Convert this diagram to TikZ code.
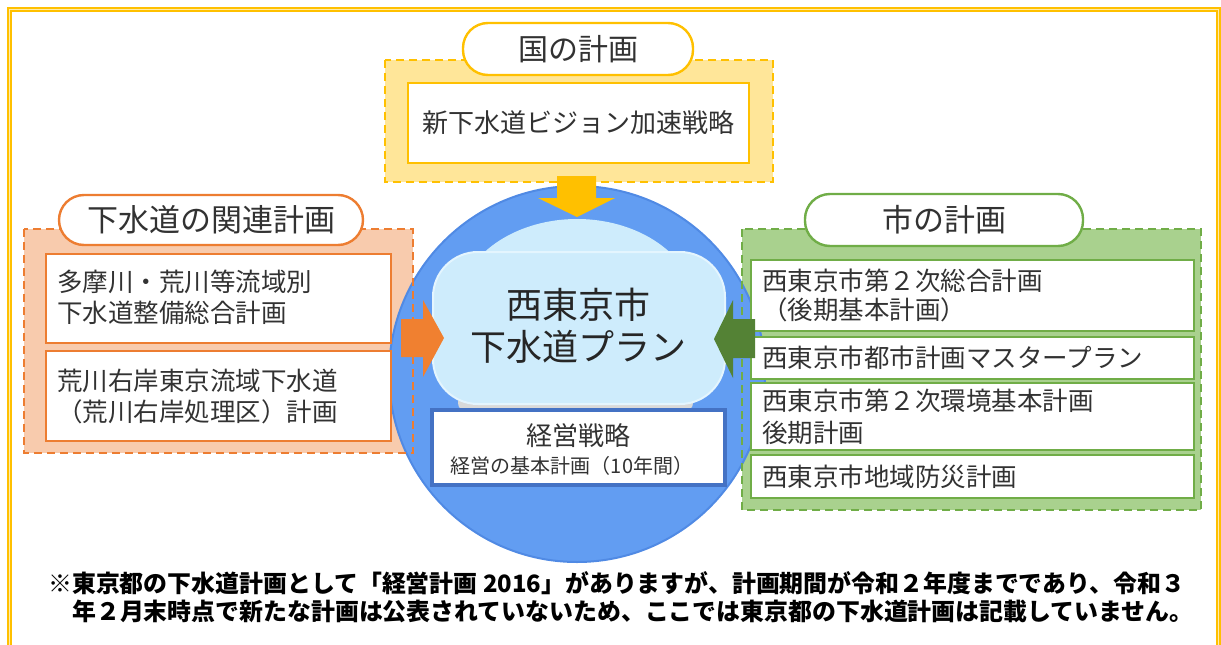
\documentclass[tikz,border=0pt]{standalone}
\usepackage{fontspec}
\setmainfont{Noto Sans CJK JP}
\definecolor{ylw}{RGB}{255,192,0}
\definecolor{ylwfill}{RGB}{255,230,153}
\definecolor{ylwpale}{RGB}{255,236,170}
\definecolor{org}{RGB}{237,125,49}
\definecolor{orgfill}{RGB}{248,203,173}
\definecolor{orgarrow}{RGB}{240,128,48}
\definecolor{grn}{RGB}{112,173,71}
\definecolor{grnfill}{RGB}{169,209,142}
\definecolor{grnarrow}{RGB}{84,130,53}
\definecolor{circblue}{RGB}{98,157,242}
\definecolor{circedge}{RGB}{80,138,228}
\definecolor{cloudblue}{RGB}{206,236,252}
\definecolor{cloudrim}{RGB}{228,245,254}
\definecolor{boxblue}{RGB}{68,114,196}
\definecolor{txtgray}{RGB}{50,50,50}
\begin{document}
\begin{tikzpicture}[x=1pt,y=-1pt,
  outerfill/.style={rectangle, inner sep=0pt, outer sep=0pt, fill=#1},
  dashborder/.style={draw=#1, line width=2pt, dash pattern=on 8pt off 5pt},
  innerbox/.style={rectangle, inner sep=0pt, outer sep=0pt, fill=white, draw=#1, line width=2.6pt},
  pill/.style={rectangle, rounded corners=25pt, inner sep=0pt, outer sep=0pt, fill=white, draw=#1, line width=2.4pt},
  boxtext/.style={inner sep=0pt, anchor=west, align=left, text=txtgray, font=\fontsize{25.5}{31}\selectfont},
  pilltext/.style={inner sep=0pt, text=txtgray, font=\fontsize{31}{36}\selectfont},
  notetext/.style={inner sep=0pt, anchor=west, text=black, font=\bfseries\fontsize{23.9}{28}\selectfont}
]
\useasboundingbox (0,0) rectangle (1221,645);
\clip (0,0) rectangle (1221,645);

% outer frame
\draw[ylw, line width=5.5pt] (9.5,9.5) rectangle (1218.5,720);
\draw[ylwpale, line width=1pt] (9.5,9.5) rectangle (1218.5,720);

% group backgrounds
\node[outerfill=ylwfill, minimum width=388pt, minimum height=122pt] (T) at (579,121) {};
\node[outerfill=orgfill, minimum width=389pt, minimum height=224pt] (L) at (218.5,341) {};
\node[outerfill=grnfill, minimum width=459pt, minimum height=281pt] (R) at (971.5,369.5) {};

% central circle
\node[circle, minimum size=376pt, inner sep=0pt, outer sep=0pt, fill=circblue, draw=circedge, line width=2pt] (C) at (577,374) {};

% dashed borders
\draw[dashborder=ylw] (T.north west) rectangle (T.south east);
\draw[dashborder=org] (L.north west) rectangle (L.south east);
\draw[dashborder=grn] (R.north west) rectangle (R.south east);

% top group
\node[innerbox=ylw, minimum width=341pt, minimum height=80pt] (T1) at (578.5,123) {};
\node[text=txtgray, inner sep=0pt, font=\fontsize{26}{30}\selectfont] (T1t) at (T1.center) {新下水道ビジョン加速戦略};
\node[pill=ylw, minimum width=230pt, minimum height=52pt] (TP) at (578,49) {};
\node[pilltext, font=\fontsize{30}{34}\selectfont] (TPt) at (TP.center) {国の計画};

% left group
\node[pill=org, minimum width=304pt, minimum height=50pt] (LP) at (211,220) {};
\node[pilltext] (LPt) at (LP.center) {下水道の関連計画};
\node[innerbox=org, minimum width=345pt, minimum height=89pt] (L1) at (218.5,298.5) {};
\node[boxtext] (L1t) at (57,297) {多摩川・荒川等流域別\\下水道整備総合計画};
\node[innerbox=org, minimum width=345pt, minimum height=90pt] (L2) at (218.5,396) {};
\node[boxtext] (L2t) at (57,396) {荒川右岸東京流域下水道\\（荒川右岸処理区）計画};

% right group
\node[pill=grn, minimum width=278pt, minimum height=52pt] (RP) at (944,220) {};
\node[pilltext] (RPt) at (RP.center) {市の計画};
\node[innerbox=grn, minimum width=443pt, minimum height=71pt] (R1) at (972.5,295.5) {};
\node[boxtext, font=\fontsize{25.5}{29}\selectfont] (R1t) at (762,295) {西東京市第２次総合計画\\（後期基本計画）};
\node[innerbox=grn, minimum width=443pt, minimum height=42pt] (R2) at (972.5,358) {};
\node[boxtext] (R2t) at (762,358) {西東京市都市計画マスタープラン};
\node[innerbox=grn, minimum width=443pt, minimum height=67pt] (R3) at (972.5,416.5) {};
\node[boxtext, font=\fontsize{25.5}{32}\selectfont] (R3t) at (762,417) {西東京市第２次環境基本計画\\後期計画};
\node[innerbox=grn, minimum width=443pt, minimum height=43pt] (R4) at (972.5,476.5) {};
\node[boxtext] (R4t) at (762,477) {西東京市地域防災計画};

% cloud (plan)
\fill[gray!30, rounded corners=8pt] (458,394) rectangle (693,411);
\fill[cloudblue] (577,310) ellipse [x radius=120, y radius=91];
\node[rectangle, rounded corners=45pt, minimum width=292pt, minimum height=152pt, inner sep=0pt, fill=cloudblue, draw=cloudrim, line width=2pt] (P) at (579,328) {};
\node[inner sep=0pt, align=center, text=black!85, font=\fontsize{36}{42}\selectfont] (Pt) at (578,326) {西東京市\\下水道プラン};

% management strategy box
\node[rectangle, inner sep=0pt, outer sep=0pt, fill=white, draw=boxblue, line width=3.5pt, minimum width=293pt, minimum height=75pt] (K) at (578.5,447.5) {};
\node[inner sep=0pt, text=txtgray, font=\fontsize{26}{30}\selectfont] (Kt1) at (578,436) {経営戦略};
\node[inner sep=0pt, text=txtgray, font=\fontsize{20}{24}\selectfont] (Kt2) at (572,466) {経営の基本計画（10年間）};

% block arrows
\fill[ylw] (557,176) -- (596,176) -- (596,198) -- (615,198) -- (577,217) -- (538,198) -- (557,198) -- cycle;
\fill[orgarrow] (401,319) -- (423,319) -- (423,300) -- (444,338) -- (423,377) -- (423,357) -- (401,357) -- cycle;
\fill[grnarrow] (755,319) -- (733,319) -- (733,300) -- (714,339) -- (733,378) -- (733,358) -- (755,358) -- cycle;

% note
\node[notetext] (N1) at (48,583) {※東京都の下水道計画として「経営計画 2016」がありますが、計画期間が令和２年度までであり、令和３};
\node[notetext] (N2) at (72,611) {年２月末時点で新たな計画は公表されていないため、ここでは東京都の下水道計画は記載していません。};
\end{tikzpicture}
\end{document}
